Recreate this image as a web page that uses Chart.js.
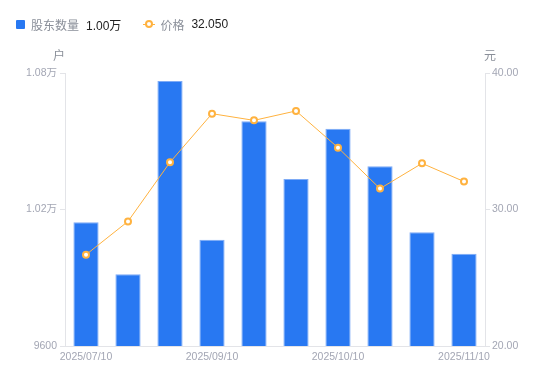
<!DOCTYPE html>
<html><head><meta charset="utf-8">
<script src="https://cdn.jsdelivr.net/npm/chart.js@4/dist/chart.umd.min.js"></script>
<style>
html,body{margin:0;padding:0;background:#fff;}
#wrap{position:relative;width:550px;height:381px;font-family:"Liberation Sans","Noto Sans CJK SC",sans-serif;}
#legend{position:absolute;left:16px;top:16px;height:16px;font-size:12px;display:flex;align-items:center;white-space:nowrap;}
.lab{color:#8a8f99;}
.val{color:#222;margin-left:7px;}
.sq{display:inline-block;width:9px;height:9px;background:#2878F2;border-radius:1px;margin-right:6px;}
.ln{position:relative;display:inline-block;width:12px;height:9px;margin-right:5px;margin-left:22px;}
.ln:before{content:"";position:absolute;left:0;right:0;top:4px;height:1px;background:#FFB23F;}
.ln:after{content:"";position:absolute;left:2px;top:0.5px;width:4px;height:4px;border:2px solid #FFB23F;border-radius:50%;background:#fff;}
canvas{position:absolute;left:0;top:0;}
</style></head>
<body><div id="wrap">
<canvas id="c" width="550" height="381"></canvas>
<div id="legend"><span class="sq"></span><span class="lab">股东数量</span><span class="val">1.00万</span><span class="ln"></span><span class="lab">价格</span><span class="val">32.050</span></div>
</div>
<script>
const categories = ['2025/07/10','2025/07/31','2025/08/20','2025/09/10','2025/09/20','2025/09/30','2025/10/10','2025/10/20','2025/10/31','2025/11/10'];
const holders = [10144, 9915, 10765, 10067, 10588, 10334, 10555, 10390, 10100, 10005];
const prices = [26.69, 29.13, 33.46, 37.02, 36.53, 37.22, 34.53, 31.53, 33.38, 32.05];
const leftTicks = [9600, 10200, 10800];
const rightTicks = [20, 30, 40];
const leftUnit = '户';
const rightUnit = '元';

const tickColor = '#a3a6b4';
const axisColor = '#e3e4e8';
const fontFam = '"Liberation Sans","Noto Sans CJK SC",sans-serif';

const unitPlugin = {
  id: 'units',
  afterDraw(chart) {
    const ctx = chart.ctx, a = chart.chartArea;
    ctx.save();
    ctx.font = '12px ' + fontFam;
    ctx.fillStyle = '#8a8f99';
    ctx.textBaseline = 'middle';
    ctx.textAlign = 'center';
    ctx.fillText(leftUnit, a.left - 6, a.top - 16);
    ctx.fillText(rightUnit, a.right + 5, a.top - 16);
    ctx.restore();
  }
};

new Chart(document.getElementById('c'), {
  data: {
    labels: categories,
    datasets: [
      {type: 'line', label: '价格', data: prices, yAxisID: 'y1', order: 0,
       borderColor: '#FFB23F', borderWidth: 1, backgroundColor: '#fff',
       pointRadius: 3, pointBorderWidth: 2, pointBackgroundColor: '#fff', pointBorderColor: '#FFB23F',
       tension: 0},
      {type: 'bar', label: '股东数量', data: holders, yAxisID: 'y', order: 1,
       backgroundColor: '#2878F2', borderColor: '#7eabf6', borderWidth: {top:1,left:1,right:1,bottom:0},
       categoryPercentage: 0.6, barPercentage: 1.0}
    ]
  },
  options: {
    responsive: false, animation: false,
    layout: {padding: {top: 73, left: 0, right: 0, bottom: 0}},
    plugins: {legend: {display: false}, tooltip: {enabled: false}},
    scales: {
      x: {
        offset: true,
        grid: {display: false, drawTicks: false},
        border: {display: true, color: axisColor},
        ticks: {autoSkip: false, maxRotation: 0, padding: 5, color: tickColor, font: {size: 10.5, family: fontFam},
          callback: (v, i) => i % 3 === 0 ? categories[i] : ''},
        afterFit: s => { s.height = 35; }
      },
      y: {
        position: 'left', min: leftTicks[0], max: leftTicks[leftTicks.length-1],
        afterBuildTicks: s => { s.ticks = leftTicks.map(v => ({value: v})); },
        grid: {drawOnChartArea: false, tickLength: 5, color: axisColor},
        border: {display: true, color: axisColor},
        ticks: {padding: 3, color: tickColor, font: {size: 10.5, family: fontFam},
          callback: v => v >= 10000 ? (v/10000).toFixed(2) + '万' : String(v)},
        afterFit: s => { s.width = 65; }
      },
      y1: {
        position: 'right', min: rightTicks[0], max: rightTicks[rightTicks.length-1],
        afterBuildTicks: s => { s.ticks = rightTicks.map(v => ({value: v})); },
        grid: {drawOnChartArea: false, tickLength: 5, color: axisColor},
        border: {display: true, color: axisColor},
        ticks: {padding: 2, color: tickColor, font: {size: 10.5, family: fontFam},
          callback: v => Number(v).toFixed(2)},
        afterFit: s => { s.width = 65; }
      }
    }
  },
  plugins: [unitPlugin]
});
</script>
</body></html>
